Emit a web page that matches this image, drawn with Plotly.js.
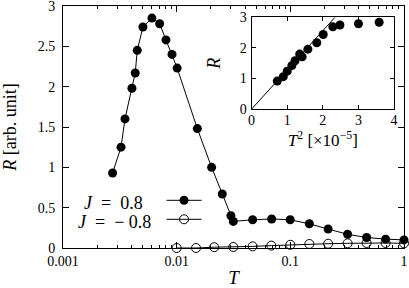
<!DOCTYPE html>
<html><head><meta charset="utf-8">
<script src="https://cdn.plot.ly/plotly-3.0.1.min.js"></script>
<style>body{margin:0;background:#fff}</style>
</head><body>
<div id="chart" style="width:409px;height:288px"></div>
<script>
// Main panel: J = 0.8 (filled)
const T_pos = [0.00273,0.00324,0.00351,0.00404,0.00432,0.0045,0.00505,0.00606,0.00708,0.00805,0.0091,0.0101,0.0152,0.0203,0.0252,0.0300,0.0315,0.0466,0.0685,0.0998,0.147,0.215,0.319,0.469,0.689,1.0];
const R_pos = [0.93,1.25,1.60,1.98,2.17,2.45,2.74,2.85,2.78,2.58,2.40,2.23,1.48,1.00,0.67,0.40,0.33,0.35,0.36,0.35,0.30,0.235,0.17,0.13,0.11,0.10];
// Main panel: J = -0.8 (open)
const T_neg = [0.0100,0.0148,0.0214,0.0315,0.0466,0.068,0.100,0.147,0.215,0.319,0.469,0.689,1.0];
const R_neg = [0.00,0.00,0.01,0.012,0.02,0.03,0.04,0.05,0.053,0.058,0.062,0.062,0.058];
// Inset: R vs T^2 [x1e-5]
const T2_in = [0.72,0.89,1.00,1.13,1.22,1.35,1.42,1.58,1.83,2.01,2.28,2.48,3.00,3.58];
const R_in  = [0.915,1.06,1.24,1.42,1.58,1.80,1.71,1.96,2.17,2.44,2.69,2.75,2.79,2.84];
const fitX = [0,2.34];
const fitY = [0,3];
const xTickVals = [0.001,0.01,0.1,1];
const xTickText = ['0.001','0.01','0.1','1'];
const yTickVals = [0,0.5,1,1.5,2,2.5,3];
const yTickText = ['0','0.5','1','1.5','2','2.5','3'];
const legendLabels = ['<i>J</i>\u00a0\u00a0=\u00a0\u00a00.8','<i>J</i>\u00a0\u00a0=\u00a0\u00a0\u2212\u00a00.8'];

const F = 'Liberation Serif';
const fnt = (s)=>({family:F,size:s,color:'black'});
const traces = [
  {x:T_pos,y:R_pos,mode:'lines+markers',name:'\u200b',cliponaxis:false,
   line:{color:'black',width:1},marker:{symbol:'circle',size:9,color:'black'}},
  {x:T_neg,y:R_neg,mode:'lines+markers',name:'\u200b',cliponaxis:false,
   line:{color:'black',width:1},marker:{symbol:'circle-open',size:9,color:'black',line:{width:1}}},
  {x:fitX,y:fitY,mode:'lines',xaxis:'x2',yaxis:'y2',showlegend:false,
   line:{color:'black',width:1}},
  {x:T2_in,y:R_in,mode:'markers',xaxis:'x2',yaxis:'y2',showlegend:false,cliponaxis:false,
   marker:{symbol:'circle',size:9,color:'black'}}
];
const layout = {
  width:409,height:288,margin:{l:63,r:5,t:6,b:40},
  paper_bgcolor:'white',plot_bgcolor:'white',
  font:fnt(14),
  showlegend:true,
  legend:{x:0.289,y:0.257,xanchor:'left',yanchor:'top',bgcolor:'rgba(0,0,0,0)',
    font:fnt(12),itemwidth:35,tracegroupgap:0},
  xaxis:{type:'log',range:[-3,0],tickvals:xTickVals,ticktext:xTickText,tickfont:fnt(14),
    ticks:'inside',ticklen:6,tickcolor:'black',showline:true,linecolor:'black',linewidth:1,
    mirror:'ticks',showgrid:false,zeroline:false,ticklabeloverflow:'allow',
    minor:{ticks:'inside',ticklen:3,tickcolor:'black',dtick:'D1',showgrid:false},
    title:{text:'<i>T</i>',font:fnt(19),standoff:30}},
  yaxis:{range:[0,3],tickvals:yTickVals,ticktext:yTickText,tickfont:fnt(14),ticks:'inside',ticklen:6,tickcolor:'black',
    showline:true,linecolor:'black',linewidth:1,mirror:'ticks',showgrid:false,zeroline:false,
    ticklabelstandoff:4,ticklabeloverflow:'allow',
    title:{text:'<i>R</i> [arb. unit]',font:fnt(18),standoff:18}},
  xaxis2:{domain:[0.553,0.971],anchor:'y2',range:[0,4],tickvals:[0,1,2,3,4],tickfont:fnt(14),ticks:'inside',ticklen:4,
    tickcolor:'black',showline:true,linecolor:'black',linewidth:1,mirror:'ticks',
    showgrid:false,zeroline:false,ticklabeloverflow:'allow',ticklabelstandoff:-2,
    title:{text:'<i>T</i><sup>2</sup> [×10<sup>\u22125</sup>]',font:fnt(17),standoff:0}},
  yaxis2:{domain:[0.574,0.953],anchor:'x2',range:[0,3],tickvals:[0,1,2,3],tickfont:fnt(14),ticks:'inside',ticklen:4,
    tickcolor:'black',showline:true,linecolor:'black',linewidth:1,mirror:'ticks',
    showgrid:false,zeroline:false,ticklabeloverflow:'allow',ticklabelstandoff:1,
    title:{text:'<i>R</i>',font:fnt(18),standoff:14}},
  annotations:[
    {xref:'paper',yref:'paper',x:0.2405,y:0.186,xanchor:'right',yanchor:'middle',
     text:legendLabels[0],showarrow:false,font:fnt(18)},
    {xref:'paper',yref:'paper',x:0.264,y:0.107,xanchor:'right',yanchor:'middle',
     text:legendLabels[1],showarrow:false,font:fnt(18)}
  ]
};
Plotly.newPlot('chart',traces,layout,{displayModeBar:false,staticPlot:true});
</script>
</body></html>
